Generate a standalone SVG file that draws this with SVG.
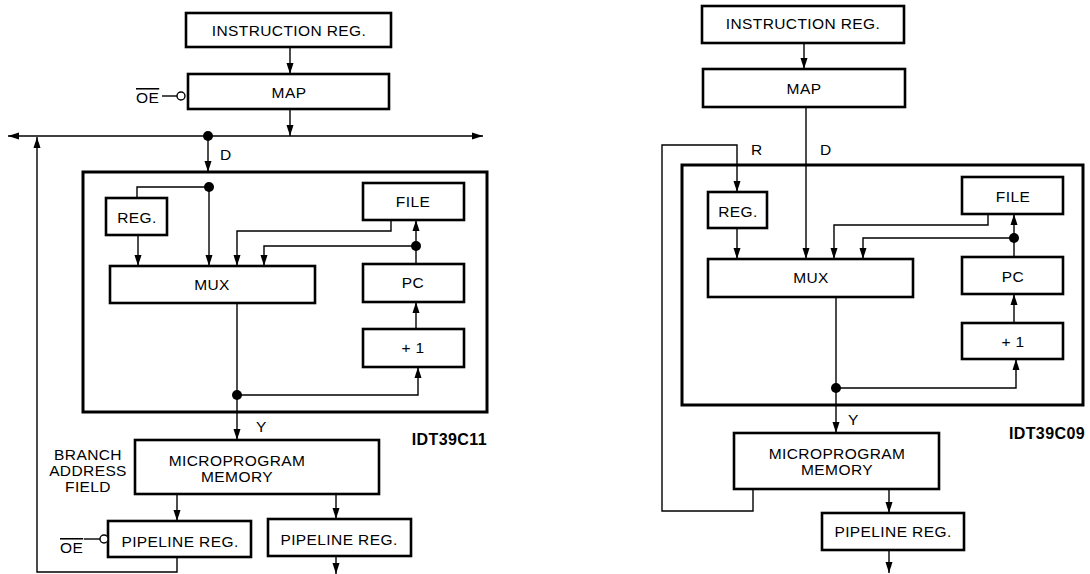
<svg xmlns="http://www.w3.org/2000/svg" width="1090" height="574" viewBox="0 0 1090 574">
<defs>
<marker id="ah" markerWidth="11" markerHeight="8" refX="11" refY="4" orient="auto" markerUnits="userSpaceOnUse">
<path d="M0,0.5 L11,4 L0,7.5 Z" fill="#000"/>
</marker>
<style>
.box{fill:#fff;stroke:#000;stroke-width:2.6}
.cont{fill:none;stroke:#000;stroke-width:3}
.w{fill:none;stroke:#000;stroke-width:1.4}
.a{fill:none;stroke:#000;stroke-width:1.4;marker-end:url(#ah)}
.dot{fill:#000}
.bub{fill:#fff;stroke:#000;stroke-width:1.4}
text{font-family:"Liberation Sans",Arial,sans-serif;font-size:15.5px;fill:#000;letter-spacing:0.4px}
.c{text-anchor:middle}
.b{font-weight:bold;font-size:16px;text-anchor:end}
.ov{text-decoration:overline}
</style>
</defs>
<rect width="1090" height="574" fill="#fff"/>

<!-- LEFT DIAGRAM -->
<g id="left-container"><rect class="cont" x="83" y="172" width="404" height="240"/></g>
<g id="L-ir"><rect class="box" x="186" y="13" width="205" height="34"/><text class="c" x="289" y="36">INSTRUCTION REG.</text></g>
<g id="L-map"><rect class="box" x="188" y="74" width="201" height="35"/><text class="c" x="289" y="98">MAP</text></g>
<g id="L-oe1"><text class="ov" x="136" y="103">OE</text><line class="w" x1="162" y1="96" x2="177" y2="96"/><circle class="bub" cx="181" cy="96" r="4"/></g>
<g id="L-reg"><rect class="box" x="106" y="198" width="61" height="37"/><text class="c" x="137" y="223">REG.</text></g>
<g id="L-mux"><rect class="box" x="110" y="266" width="205" height="37"/><text class="c" x="212" y="290">MUX</text></g>
<g id="L-file"><rect class="box" x="363" y="183" width="101" height="37"/><text class="c" x="413" y="207">FILE</text></g>
<g id="L-pc"><rect class="box" x="363" y="264" width="101" height="38"/><text class="c" x="413" y="288">PC</text></g>
<g id="L-inc"><rect class="box" x="363" y="329" width="101" height="38"/><text class="c" x="413" y="353">+ 1</text></g>
<g id="L-mem"><rect class="box" x="135" y="440" width="244" height="54"/><text class="c" x="237" y="466">MICROPROGRAM</text><text class="c" x="237" y="482">MEMORY</text></g>
<g id="L-pipe1"><rect class="box" x="108" y="521" width="143" height="36"/><text class="c" x="180" y="547">PIPELINE REG.</text></g>
<g id="L-oe2"><text class="ov" x="60" y="553">OE</text><line class="w" x1="84" y1="539" x2="100" y2="539"/><circle class="bub" cx="104" cy="539" r="4"/></g>
<g id="L-pipe2"><rect class="box" x="268" y="519" width="143" height="37"/><text class="c" x="339" y="545">PIPELINE REG.</text></g>
<g id="L-labels">
<text x="220" y="160">D</text>
<text x="256" y="432">Y</text>
<text class="b" x="487" y="445">IDT39C11</text>
<text class="c" x="88" y="460">BRANCH</text>
<text class="c" x="88" y="476">ADDRESS</text>
<text class="c" x="88" y="492">FIELD</text>
</g>

<!-- RIGHT DIAGRAM -->
<g id="right-container"><rect class="cont" x="682" y="165" width="401" height="240"/></g>
<g id="R-ir"><rect class="box" x="702" y="6" width="202" height="37"/><text class="c" x="803" y="29">INSTRUCTION REG.</text></g>
<g id="R-map"><rect class="box" x="703" y="69" width="202" height="38"/><text class="c" x="804" y="94">MAP</text></g>
<g id="R-reg"><rect class="box" x="708" y="192" width="59" height="36"/><text class="c" x="738" y="217">REG.</text></g>
<g id="R-mux"><rect class="box" x="708" y="259" width="205" height="38"/><text class="c" x="811" y="283">MUX</text></g>
<g id="R-file"><rect class="box" x="962" y="177" width="101" height="37"/><text class="c" x="1013" y="202">FILE</text></g>
<g id="R-pc"><rect class="box" x="962" y="257" width="101" height="37"/><text class="c" x="1013" y="282">PC</text></g>
<g id="R-inc"><rect class="box" x="962" y="323" width="101" height="36"/><text class="c" x="1013" y="347">+ 1</text></g>
<g id="R-mem"><rect class="box" x="734" y="433" width="205" height="56"/><text class="c" x="837" y="459">MICROPROGRAM</text><text class="c" x="837" y="475">MEMORY</text></g>
<g id="R-pipe"><rect class="box" x="822" y="513" width="142" height="37"/><text class="c" x="893" y="537">PIPELINE REG.</text></g>
<g id="R-labels">
<text x="751" y="155">R</text>
<text x="820" y="155">D</text>
<text x="848" y="425">Y</text>
<text class="b" x="1085" y="439">IDT39C09</text>
</g>

<g id="connectors">
<!-- left -->
<line class="a" x1="290" y1="47" x2="290" y2="74"/>
<line class="a" x1="290" y1="109" x2="290" y2="136"/>
<line class="a" x1="208" y1="136" x2="8" y2="136"/>
<line class="a" x1="208" y1="136" x2="483" y2="136"/>
<circle class="dot" cx="208" cy="136" r="5"/>
<line class="a" x1="208" y1="136" x2="208" y2="172"/>
<polyline class="a" points="177,557 177,572 37,572 37,137"/>
<circle class="dot" cx="209" cy="187" r="5"/>
<polyline class="w" points="209,187 137,187 137,198"/>
<line class="a" x1="209" y1="187" x2="209" y2="266"/>
<line class="a" x1="138" y1="235" x2="138" y2="266"/>
<polyline class="a" points="391,220 391,231 237,231 237,266"/>
<circle class="dot" cx="416" cy="246" r="5"/>
<line class="w" x1="416" y1="264" x2="416" y2="246"/>
<line class="a" x1="416" y1="246" x2="416" y2="220"/>
<polyline class="a" points="416,246 264,246 264,266"/>
<line class="a" x1="416" y1="329" x2="416" y2="302"/>
<line class="w" x1="237" y1="303" x2="237" y2="395"/>
<circle class="dot" cx="237" cy="395" r="5"/>
<polyline class="a" points="237,395 418,395 418,367"/>
<line class="a" x1="237" y1="395" x2="237" y2="440"/>
<line class="a" x1="177" y1="494" x2="177" y2="521"/>
<line class="a" x1="336" y1="494" x2="336" y2="519"/>
<line class="a" x1="336" y1="556" x2="336" y2="574"/>
<!-- right -->
<line class="a" x1="804" y1="43" x2="804" y2="69"/>
<line class="a" x1="806" y1="107" x2="806" y2="259"/>
<polyline class="a" points="753,489 753,511 662,511 662,145 737,145 737,192"/>
<line class="a" x1="737" y1="228" x2="737" y2="259"/>
<polyline class="a" points="988,214 988,225 834,225 834,259"/>
<circle class="dot" cx="1014" cy="238" r="5"/>
<line class="w" x1="1014" y1="257" x2="1014" y2="238"/>
<line class="a" x1="1014" y1="238" x2="1014" y2="214"/>
<polyline class="a" points="1014,238 863,238 863,259"/>
<line class="a" x1="1014" y1="323" x2="1014" y2="294"/>
<line class="w" x1="836" y1="297" x2="836" y2="388"/>
<circle class="dot" cx="836" cy="388" r="5"/>
<polyline class="a" points="836,388 1016,388 1016,359"/>
<line class="a" x1="836" y1="388" x2="836" y2="433"/>
<line class="a" x1="889" y1="489" x2="889" y2="513"/>
<line class="a" x1="889" y1="550" x2="889" y2="573"/>
</g>
</svg>
